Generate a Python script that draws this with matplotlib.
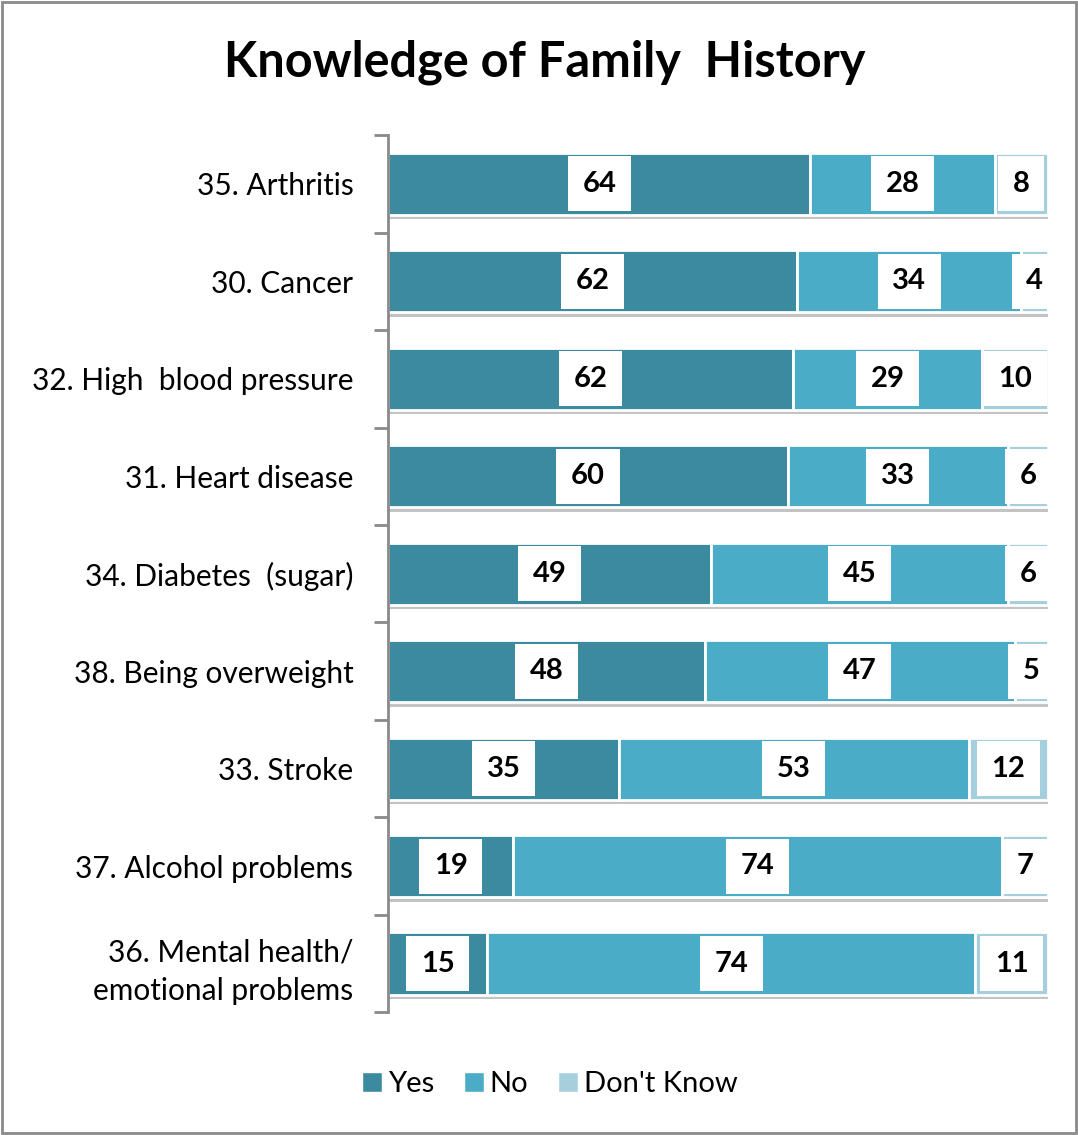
import matplotlib
matplotlib.use("Agg")
import matplotlib.pyplot as plt
import matplotlib.patheffects as pe
from matplotlib.patches import Rectangle, Patch
import numpy as np

categories = [
    "35. Arthritis",
    "30. Cancer",
    "32. High  blood pressure",
    "31. Heart disease",
    "34. Diabetes  (sugar)",
    "38. Being overweight",
    "33. Stroke",
    "37. Alcohol problems",
    "36. Mental health/\nemotional problems",
]
yes = [64, 62, 62, 60, 49, 48, 35, 19, 15]
no = [28, 34, 29, 33, 45, 47, 53, 74, 74]
dont_know = [8, 4, 10, 6, 6, 5, 12, 7, 11]

series = [("Yes", yes, "#3C8AA0"), ("No", no, "#4AACC6"), ("Don't Know", dont_know, "#A6CFDE")]

plt.rcParams["font.family"] = ["Lato", "DejaVu Sans"]

fig = plt.figure(figsize=(10.78, 11.35), dpi=100)
ax = fig.add_axes([0.36, 0.108, 0.612, 0.773])

n = len(categories)
ypos = np.arange(n)
totals = np.array(yes) + np.array(no) + np.array(dont_know)
left = np.zeros(n)
shadow = [pe.SimplePatchShadow(offset=(0.5, -3), shadow_rgbFace="#6a6a6a", alpha=0.4), pe.Normal()]

for name, vals, color in series:
    vals = np.array(vals, dtype=float)
    widths = vals / totals * 100
    bars = ax.barh(ypos, widths, left=left, height=0.64, color=color,
                   edgecolor="white", linewidth=2, label=name)
    for b in bars:
        b.set_path_effects(shadow)
    for i, (w, v) in enumerate(zip(widths, vals)):
        ax.text(left[i] + w / 2, ypos[i], f"{int(v)}", ha="center", va="center",
                fontsize=21, fontweight="bold", color="black",
                bbox=dict(boxstyle="square,pad=0.5", fc="white", ec="none"))
    left += widths

ax.set_xlim(0, 100)
ax.set_ylim(n - 0.5, -0.5)
ax.set_xticks([])
ax.set_yticks(np.arange(-0.5, n, 1.0), minor=False)
ax.set_yticklabels([])
ax.set_yticks(ypos, minor=True)
ax.set_yticklabels(categories, minor=True, fontsize=21.5, ha="right",
                   multialignment="right", linespacing=1.45)
ax.tick_params(axis="y", which="minor", length=0, pad=25)
ax.tick_params(axis="y", which="major", length=10, width=2, color="#8a8a8a")
for s in ["top", "right", "bottom"]:
    ax.spines[s].set_visible(False)
ax.spines["left"].set_color("#8a8a8a")
ax.spines["left"].set_linewidth(2)

fig.text(0.505, 0.945, "Knowledge of Family  History", ha="center", va="center",
         fontsize=35, fontweight="bold")

handles = [Patch(facecolor=c, edgecolor="white", label=nm) for nm, _, c in series]
fig.legend(handles=handles, loc="center", bbox_to_anchor=(0.51, 0.045), ncol=3,
           frameon=False, fontsize=21, handlelength=0.7, handleheight=0.7,
           handletextpad=0.2, columnspacing=1.0)

fig.patches.append(Rectangle((0.002, 0.002), 0.996, 0.996, transform=fig.transFigure,
                             fill=False, edgecolor="#8a8a8a", linewidth=2))

fig.savefig("out.png", dpi=100)
